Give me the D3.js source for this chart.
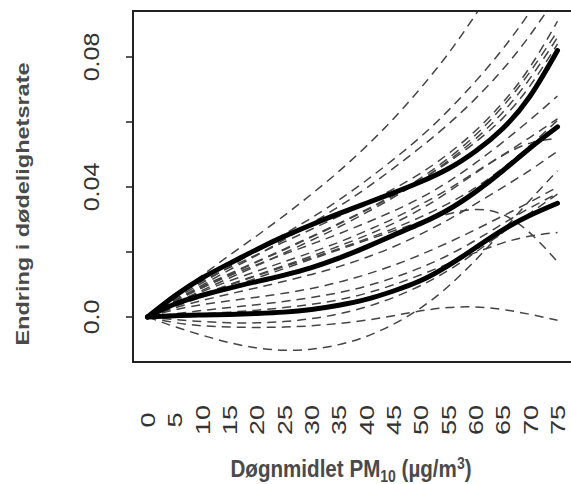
<!DOCTYPE html>
<html>
<head>
<meta charset="utf-8">
<script src="https://cdn.jsdelivr.net/npm/d3@7"></script>
<style>
  body { margin: 0; background: #fff; }
  svg { display: block; font-family: "Liberation Sans", Arial, sans-serif; }
</style>
</head>
<body>
<svg id="chart" width="571" height="484"></svg>
<script>
// x positions of every curve point (µg/m3)
var pm = [0, 5, 10, 15, 20, 25, 30, 35, 40, 45, 50, 55, 60, 65, 70, 75]
var xTickLabels = ["0","5","10","15","20","25","30","35","40","45","50","55","60","65","70","75"]
var yTicks = [0, 0.02, 0.04, 0.06, 0.08]
var yTickLabels = ["0.0", "", "0.04", "", "0.08"]

// thick solid curves
var upperThick  = [0, .0065, .012, .0165, .0208, .0248, .0284, .0318, .035, .0382, .0416, .0456, .051, .058, .068, .082]
var middleThick = [0, .004, .0067, .0089, .0109, .0129, .0152, .0181, .0215, .0252, .0288, .033, .0385, .045, .052, .0585]
var lowerThick  = [0, .0004, .0006, .0008, .0011, .0015, .0023, .0036, .0054, .008, .0112, .0158, .0213, .0268, .0313, .035]

// thin dashed curves
var dashed = [
  [0, .0065, .0128, .019, .025, .0312, .0378, .0448, .0525, .061, .0705, .081, .093, .106, .12, .135],
  [0, .0055, .0105, .0155, .0205, .0255, .0305, .036, .042, .0485, .0555, .0635, .0725, .0825, .094, .107],
  [0, .005, .0098, .0145, .019, .0238, .0288, .034, .0396, .0458, .0523, .0593, .0672, .0762, .0868, .099],
  [0, .006, .011, .0152, .0192, .0231, .027, .031, .035, .0394, .0443, .0502, .0573, .066, .077, .091],
  [0, .0052, .0094, .0133, .0171, .0209, .0248, .0288, .033, .0376, .0428, .0488, .056, .0648, .0755, .088],
  [0, .0042, .0082, .012, .0158, .0197, .0236, .0277, .0321, .0368, .042, .048, .0548, .063, .0735, .086],
  [0, .0048, .009, .013, .0169, .0207, .0246, .0286, .0328, .0373, .0422, .0476, .0538, .0612, .0712, .084],
  [0, .005, .009, .0127, .0161, .0193, .0224, .0256, .029, .0326, .0367, .0416, .0474, .0538, .0607, .068],
  [0, .0042, .0078, .0111, .0141, .017, .0199, .023, .0265, .0303, .0346, .0393, .0446, .0499, .0553, .061],
  [0, .0038, .007, .01, .0129, .0158, .0187, .0218, .0251, .0288, .0332, .0385, .0443, .0497, .0535, .055],
  [0, .0036, .0068, .0098, .0127, .0155, .0182, .021, .024, .0272, .0308, .0349, .0398, .0458, .0528, .0605],
  [0, .0032, .0062, .0091, .012, .0149, .0178, .0207, .0236, .0265, .0293, .0317, .0331, .0315, .0258, .017],
  [0, .0028, .0051, .0071, .009, .011, .0131, .0155, .0183, .0216, .0255, .0299, .0348, .0399, .0452, .051],
  [0, .0022, .0038, .005, .0061, .0073, .0088, .0107, .0131, .0159, .0192, .0229, .0269, .0311, .0354, .04],
  [0, -.0008, -.0014, -.0018, -.0018, -.0014, -.0005, .001, .0031, .006, .0097, .0143, .0199, .026, .032, .0378],
  [0, .0005, .001, .0015, .0021, .0029, .0039, .0053, .0073, .0099, .013, .0164, .0198, .0228, .0249, .026],
  [0, .001, .002, .0029, .0038, .0048, .006, .0075, .0095, .0121, .0152, .019, .0236, .0287, .0336, .038],
  [0, -.003, -.0056, -.0079, -.0095, -.0102, -.0099, -.0085, -.006, -.0022, .0028, .0094, .0175, .0266, .036, .045],
  [0, -.0017, -.0027, -.0031, -.0032, -.0031, -.0027, -.002, -.001, .0004, .0019, .0029, .0031, .0023, .0008, -.001]
]

var svg = d3.select("#chart")

var x = d3.scaleLinear().domain([0, 75]).range([147.5, 557.5])
var y = d3.scaleLinear().domain([0, 0.08]).range([317, 57])

var boxLeft = 133, boxTop = 11, boxBottom = 362

svg.append("clipPath").attr("id", "clip")
  .append("rect")
  .attr("x", boxLeft).attr("y", boxTop)
  .attr("width", 571 - boxLeft).attr("height", boxBottom - boxTop)

var line = d3.line()
  .x((d, i) => x(pm[i]))
  .y(d => y(d))
  .curve(d3.curveNatural)

var plot = svg.append("g").attr("clip-path", "url(#clip)")

// dashed curves first
plot.selectAll(".dash")
  .data(dashed)
  .join("path")
  .attr("class", "dash")
  .attr("d", line)
  .attr("fill", "none")
  .attr("stroke", "#444")
  .attr("stroke-width", 1.5)
  .attr("stroke-dasharray", "9,6")

// thick curves on top
plot.selectAll(".thick")
  .data([upperThick, middleThick, lowerThick])
  .join("path")
  .attr("class", "thick")
  .attr("d", line)
  .attr("fill", "none")
  .attr("stroke", "#000")
  .attr("stroke-width", 5)
  .attr("stroke-linecap", "round")
  .attr("stroke-linejoin", "round")

// box (right side runs past the picture)
svg.append("rect")
  .attr("x", boxLeft).attr("y", boxTop)
  .attr("width", 600 - boxLeft).attr("height", boxBottom - boxTop)
  .attr("fill", "none")
  .attr("stroke", "#222")
  .attr("stroke-width", 2)

// y ticks
svg.selectAll(".ytick")
  .data(yTicks)
  .join("line")
  .attr("class", "ytick")
  .attr("x1", boxLeft - 7).attr("x2", boxLeft)
  .attr("y1", d => y(d)).attr("y2", d => y(d))
  .attr("stroke", "#222")
  .attr("stroke-width", 1.5)

var ySize = 25, yK = 0.85
svg.selectAll(".ylab")
  .data(yTicks)
  .join("text")
  .attr("class", "ylab")
  .attr("transform", d => `translate(${91 + 0.716 * ySize * yK / 2},${y(d)}) rotate(-90) scale(1,${yK})`)
  .attr("text-anchor", "middle")
  .attr("font-size", ySize)
  .attr("fill", "#333")
  .text((d, i) => yTickLabels[i])

// x tick labels, rotated
var xSize = 27, xK = 0.78
svg.selectAll(".xlab")
  .data(pm)
  .join("text")
  .attr("class", "xlab")
  .attr("transform", d => `translate(${x(d) + 0.716 * xSize * xK / 2},420) rotate(-90) scale(1,${xK})`)
  .attr("text-anchor", "middle")
  .attr("font-size", xSize)
  .attr("fill", "#333")
  .text((d, i) => xTickLabels[i])

// axis titles
svg.append("text")
  .attr("transform", "translate(29,204) rotate(-90) scale(1,0.8)")
  .attr("text-anchor", "middle")
  .attr("font-size", 23.5)
  .attr("font-weight", "bold")
  .attr("fill", "#4a4a4a")
  .text("Endring i dødelighetsrate")

var xt = svg.append("text")
  .attr("transform", "translate(351,477) scale(1,1.15)")
  .attr("text-anchor", "middle")
  .attr("font-size", 20.6)
  .attr("font-weight", "bold")
  .attr("fill", "#4a4a4a")
xt.append("tspan").text("Døgnmidlet PM")
xt.append("tspan").attr("font-size", 14).attr("dy", 4).text("10")
xt.append("tspan").attr("dy", -4).text(" (µg/m")
xt.append("tspan").attr("font-size", 14).attr("dy", -7).text("3")
xt.append("tspan").attr("dy", 7).text(")")
</script>
</body>
</html>
